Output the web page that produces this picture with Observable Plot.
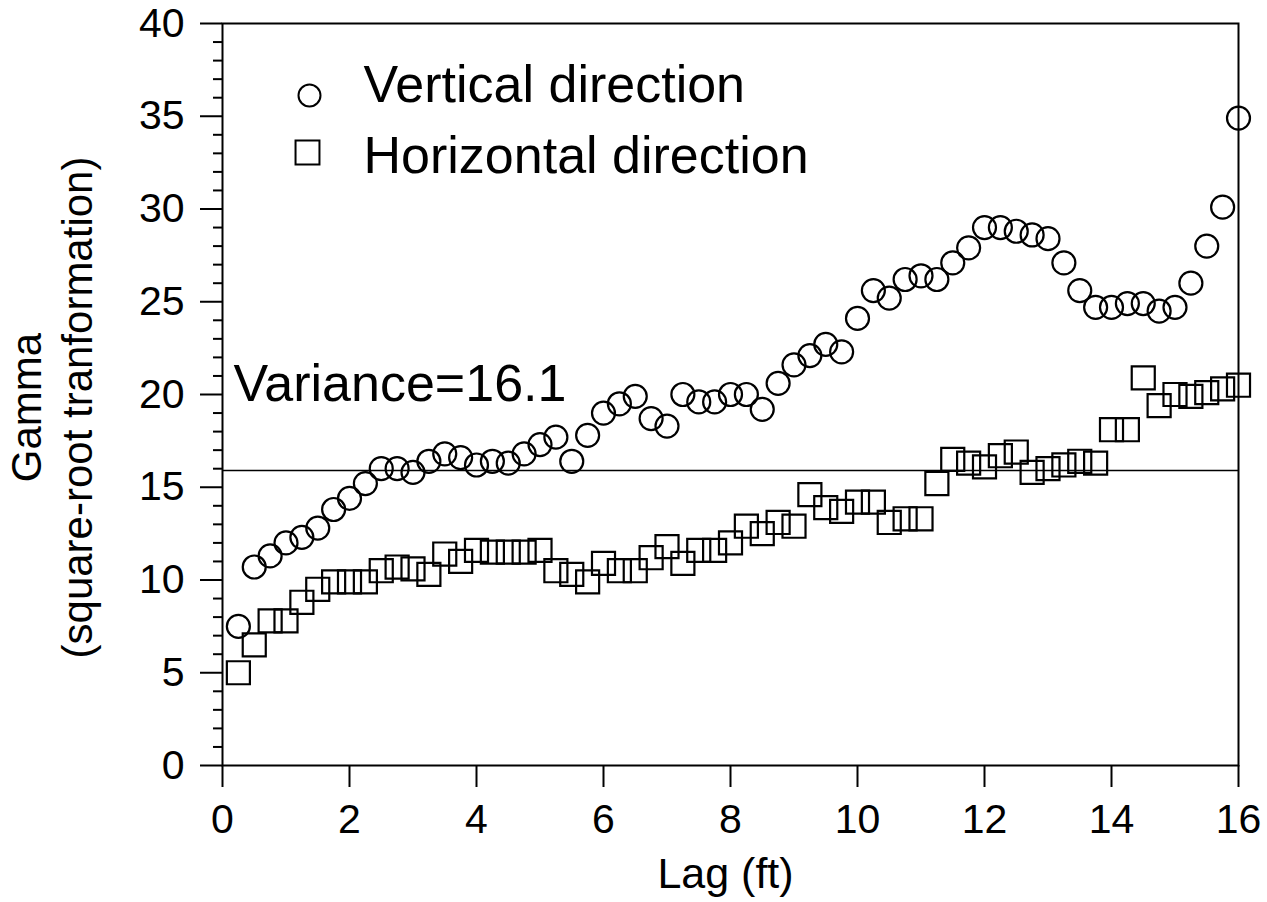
<!DOCTYPE html>
<html>
<head>
<meta charset="utf-8">
<script src="https://cdn.jsdelivr.net/npm/d3@7"></script>
<script src="https://cdn.jsdelivr.net/npm/@observablehq/plot@0.6"></script>
<style>
  html, body { margin: 0; padding: 0; background: #fff; }
</style>
</head>
<body>
<div id="chart"></div>
<script>
// ---- data ----
const lags = [0.25, 0.5, 0.75, 1, 1.25, 1.5, 1.75, 2, 2.25, 2.5, 2.75, 3, 3.25, 3.5, 3.75, 4,
  4.25, 4.5, 4.75, 5, 5.25, 5.5, 5.75, 6, 6.25, 6.5, 6.75, 7, 7.25, 7.5, 7.75, 8,
  8.25, 8.5, 8.75, 9, 9.25, 9.5, 9.75, 10, 10.25, 10.5, 10.75, 11, 11.25, 11.5, 11.75, 12,
  12.25, 12.5, 12.75, 13, 13.25, 13.5, 13.75, 14, 14.25, 14.5, 14.75, 15, 15.25, 15.5, 15.75, 16];

const verticalGamma = [7.5, 10.7, 11.3, 12.0, 12.3, 12.8, 13.8, 14.4, 15.2, 16.0, 16.0, 15.8, 16.4, 16.8, 16.6, 16.2,
  16.4, 16.3, 16.8, 17.3, 17.7, 16.4, 17.8, 19.0, 19.5, 19.9, 18.7, 18.3, 20.0, 19.6, 19.6, 20.0,
  20.0, 19.2, 20.6, 21.6, 22.1, 22.7, 22.3, 24.1, 25.6, 25.2, 26.2, 26.4, 26.2, 27.1, 27.9, 29.0,
  29.0, 28.8, 28.6, 28.4, 27.1, 25.6, 24.7, 24.7, 24.9, 24.9, 24.5, 24.7, 26.0, 28.0, 30.1, 34.9];

const horizontalGamma = [5.0, 6.5, 7.8, 7.8, 8.8, 9.5, 9.9, 9.9, 9.9, 10.5, 10.7, 10.6, 10.3, 11.4, 11.0, 11.6,
  11.5, 11.5, 11.5, 11.6, 10.5, 10.3, 9.9, 10.9, 10.5, 10.5, 11.2, 11.8, 10.9, 11.6, 11.6, 12.0,
  12.9, 12.5, 13.1, 12.9, 14.6, 13.9, 13.7, 14.2, 14.2, 13.1, 13.3, 13.3, 15.2, 16.5, 16.3, 16.1,
  16.7, 16.9, 15.8, 16.0, 16.2, 16.4, 16.3, 18.1, 18.1, 20.9, 19.4, 20.0, 19.9, 20.1, 20.3, 20.5];

const seriesNames = ["Vertical direction", "Horizontal direction"];
const varianceLevel = 15.9;
const varianceLabel = "Variance=16.1";
const xTicks = [0, 2, 4, 6, 8, 10, 12, 14, 16];
const yTicks = [0, 5, 10, 15, 20, 25, 30, 35, 40];
const yMinorTicks = [1, 2, 3, 4, 6, 7, 8, 9, 11, 12, 13, 14, 16, 17, 18, 19, 21, 22, 23, 24,
  26, 27, 28, 29, 31, 32, 33, 34, 36, 37, 38, 39];
const xTitle = "Lag (ft)";
const yTitle = "Gamma\n(square-root tranformation)";

// ---- tables ----
const vertical = lags.map((lag, i) => ({lag, gamma: verticalGamma[i]}));
const horizontal = lags.map((lag, i) => ({lag, gamma: horizontalGamma[i]}));

const font = "'Liberation Sans', Arial, Helvetica, sans-serif";

const chart = Plot.plot({
  width: 1267,
  height: 902,
  marginLeft: 222,
  marginRight: 29,
  marginTop: 23,
  marginBottom: 137,
  x: {domain: [0, 16], label: null},
  y: {domain: [0, 40], label: null},
  style: {fontFamily: font, fontSize: "40px", color: "black", background: "white"},
  marks: [
    Plot.frame({stroke: "black", strokeWidth: 2}),
    Plot.ruleY([varianceLevel], {stroke: "black", strokeWidth: 1.6}),
    Plot.axisY({ticks: yMinorTicks, tickSize: 9, tickFormat: () => "", strokeWidth: 2, label: null}),
    Plot.axisY({ticks: yTicks, tickSize: 22, tickPadding: 16, fontSize: 41, strokeWidth: 2, label: null}),
    Plot.axisX({ticks: xTicks, tickSize: 22, tickPadding: 16, fontSize: 41, strokeWidth: 2, label: null}),
    Plot.dot(horizontal, {x: "lag", y: "gamma", symbol: "square", r: 13, stroke: "black", strokeWidth: 2.2, fill: "none"}),
    Plot.dot(vertical, {x: "lag", y: "gamma", r: 11.5, stroke: "black", strokeWidth: 2.2, fill: "none"}),
    Plot.text([varianceLabel], {text: d => d, frameAnchor: "top-left", lineAnchor: "middle", dx: 11, dy: 361, textAnchor: "start", fontSize: 52}),
    // legend
    Plot.dot([seriesNames[0]], {frameAnchor: "top-left", dx: 87, dy: 72, r: 11, stroke: "black", strokeWidth: 2, fill: "none"}),
    Plot.dot([seriesNames[1]], {frameAnchor: "top-left", dx: 85, dy: 129, r: 13.5, symbol: "square", stroke: "black", strokeWidth: 2, fill: "none"}),
    Plot.text([seriesNames[0]], {text: d => d, frameAnchor: "top-left", lineAnchor: "middle", dx: 141, dy: 62, textAnchor: "start", fontSize: 52}),
    Plot.text([seriesNames[1]], {text: d => d, frameAnchor: "top-left", lineAnchor: "middle", dx: 141, dy: 133, textAnchor: "start", fontSize: 52}),
    // axis titles
    Plot.text([xTitle], {text: d => d, frameAnchor: "bottom", lineAnchor: "middle", dx: -5, dy: 109, fontSize: 43}),
    Plot.text([yTitle], {text: d => d, frameAnchor: "left", textAnchor: "middle", lineAnchor: "middle", rotate: -90, dx: -172, dy: 13, fontSize: 42, lineHeight: 1.2})
  ]
});

document.getElementById("chart").appendChild(chart);
</script>
</body>
</html>
